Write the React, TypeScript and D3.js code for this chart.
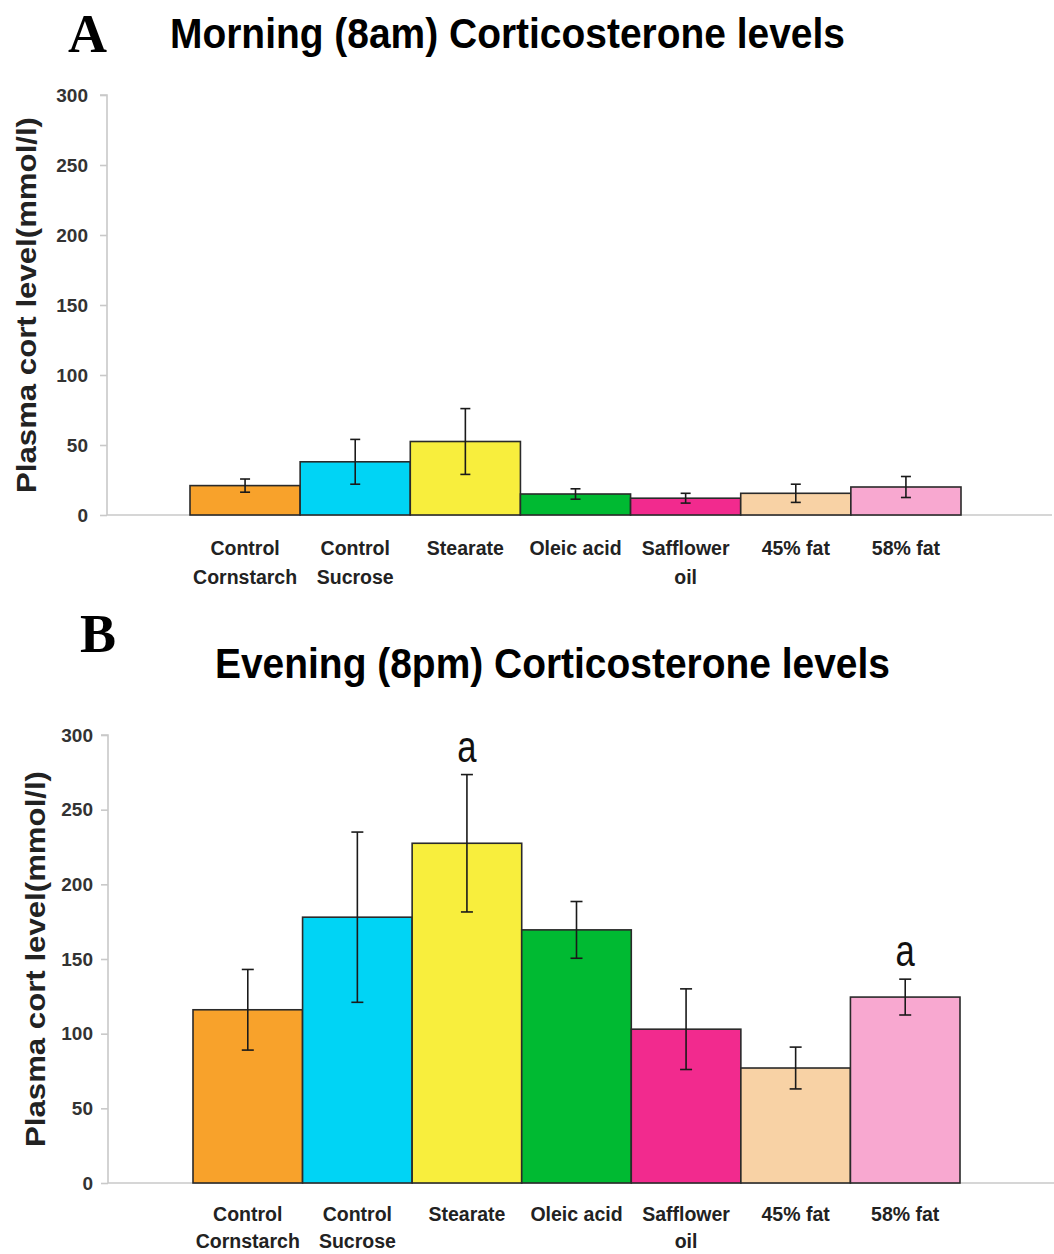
import React, { useEffect, useRef } from "react";
import * as d3 from "d3";

const categories = [
  "Control\nCornstarch",
  "Control\nSucrose",
  "Stearate",
  "Oleic acid",
  "Safflower\noil",
  "45% fat",
  "58% fat",
];
const barColors = ["#F8A22B", "#00D4F5", "#F8EE3D", "#00BA32", "#F22A8E", "#F8D2A5", "#F8A8D0"];

const morningMean = [21, 38, 52.5, 15, 12, 15.5, 20];
const morningErr = [4.7, 16, 23.5, 3.7, 3.5, 6.5, 7.5];
const morningSig = ["", "", "", "", "", "", ""];

const eveningMean = [116, 178, 227.5, 169.5, 103, 77, 124.5];
const eveningErr = [27, 57, 46, 19, 27, 14, 12];
const eveningSig = ["", "", "a", "", "", "", "a"];

const yTicks = [0, 50, 100, 150, 200, 250, 300];
const yLabel = "Plasma cort level(mmol/l)";

type PanelProps = {
  letter: string;
  title: string;
  mean: number[];
  err: number[];
  sig: string[];
  yTop: number;
  yBottom: number;
  axisX: number;
  axisEnd: number;
  bandStart: number;
  bandEnd: number;
  letterX: number;
  letterY: number;
  titleX: number;
  titleY: number;
  yLabelX: number;
  tickPad: number;
  labelY1: number;
  labelGap: number;
  capW: number;
};

function Panel(p: PanelProps) {
  const axisRef = useRef<SVGGElement>(null);
  const y = d3.scaleLinear().domain([0, 300]).range([p.yBottom, p.yTop]);
  const x = d3.scaleBand<string>().domain(categories).range([p.bandStart, p.bandEnd]).padding(0);

  useEffect(() => {
    if (!axisRef.current) return;
    const g = d3.select(axisRef.current);
    g.selectAll("*").remove();
    g.attr("transform", `translate(${p.axisX},0)`).call(
      d3.axisLeft(y).tickValues(yTicks).tickSize(7).tickPadding(p.tickPad).tickFormat(d3.format("d"))
    );
    g.select(".domain").attr("stroke", "#C9C9C9").attr("stroke-width", 1.6).attr("d", `M-7,${p.yTop}H0V${p.yBottom}`);
    g.selectAll(".tick line").attr("stroke", "#C9C9C9").attr("stroke-width", 1.6);
    g.selectAll(".tick text")
      .attr("fill", "#333")
      .attr("font-family", "'Liberation Sans', Arial, sans-serif")
      .attr("font-weight", "bold")
      .attr("font-size", 19);
  });

  const yMid = (p.yTop + p.yBottom) / 2;
  return (
    <g>
      <text x={p.letterX} y={p.letterY} fontFamily="'Liberation Serif', 'Times New Roman', serif" fontWeight="bold" fontSize={54} fill="#000">
        {p.letter}
      </text>
      <text
        x={p.titleX}
        y={p.titleY}
        fontFamily="'Liberation Sans', Arial, sans-serif"
        fontWeight="bold"
        fontSize={42}
        textLength={675}
        lengthAdjust="spacingAndGlyphs"
        fill="#000"
      >
        {p.title}
      </text>
      <text
        transform={`translate(${p.yLabelX},${yMid}) rotate(-90)`}
        textAnchor="middle"
        fontFamily="'Liberation Sans', Arial, sans-serif"
        fontWeight="bold"
        fontSize={28}
        textLength={376}
        lengthAdjust="spacingAndGlyphs"
        fill="#222"
      >
        {yLabel}
      </text>
      <g ref={axisRef} />
      <line x1={p.axisX} x2={p.axisEnd} y1={p.yBottom} y2={p.yBottom} stroke="#C9C9C9" strokeWidth={1.6} />
      {categories.map((c, i) => (
        <rect
          key={c}
          x={x(c)}
          y={y(p.mean[i])}
          width={x.bandwidth()}
          height={y(0) - y(p.mean[i])}
          fill={barColors[i]}
          stroke="#2a2a2a"
          strokeWidth={1.6}
        />
      ))}
      {categories.map((c, i) => {
        const cx = (x(c) as number) + x.bandwidth() / 2;
        const hi = y(p.mean[i] + p.err[i]);
        const lo = y(p.mean[i] - p.err[i]);
        return (
          <g key={c} stroke="#1a1a1a" strokeWidth={1.6}>
            <line x1={cx} x2={cx} y1={hi} y2={lo} />
            <line x1={cx - p.capW / 2} x2={cx + p.capW / 2} y1={hi} y2={hi} />
            <line x1={cx - p.capW / 2} x2={cx + p.capW / 2} y1={lo} y2={lo} />
          </g>
        );
      })}
      {categories.map((c, i) =>
        p.sig[i] ? (
          <text
            key={c}
            transform={`translate(${(x(c) as number) + x.bandwidth() / 2},${y(p.mean[i] + p.err[i]) - 13}) scale(1.05,1.35)`}
            textAnchor="middle"
            fontFamily="'Liberation Sans', Arial, sans-serif"
            fontSize={33}
            fill="#111"
          >
            {p.sig[i]}
          </text>
        ) : null
      )}
      {categories.map((c) => {
        const cx = (x(c) as number) + x.bandwidth() / 2;
        return (
          <text
            key={c}
            textAnchor="middle"
            fontFamily="'Liberation Sans', Arial, sans-serif"
            fontWeight="bold"
            fontSize={19.5}
            fill="#222"
          >
            {c.split("\n").map((line, k) => (
              <tspan key={k} x={cx} y={p.labelY1 + k * p.labelGap}>
                {line}
              </tspan>
            ))}
          </text>
        );
      })}
    </g>
  );
}

export default function App() {
  return (
    <svg
      width={1054}
      height={1254}
      viewBox="0 0 1054 1254"
      style={{ position: "absolute", left: 0, top: 0, background: "#fff", display: "block" }}
    >
      <rect width={1054} height={1254} fill="#fff" />
      <Panel
        letter="A"
        title="Morning (8am) Corticosterone levels"
        mean={morningMean}
        err={morningErr}
        sig={morningSig}
        yTop={95}
        yBottom={515}
        axisX={107}
        axisEnd={1052}
        bandStart={190}
        bandEnd={961}
        letterX={68}
        letterY={52}
        titleX={170}
        titleY={48}
        yLabelX={36}
        tickPad={12}
        labelY1={555}
        labelGap={29}
        capW={10}
      />
      <Panel
        letter="B"
        title="Evening (8pm) Corticosterone levels"
        mean={eveningMean}
        err={eveningErr}
        sig={eveningSig}
        yTop={735}
        yBottom={1183}
        axisX={108}
        axisEnd={1054}
        bandStart={193}
        bandEnd={960}
        letterX={80}
        letterY={652}
        titleX={215}
        titleY={678}
        yLabelX={45}
        tickPad={8}
        labelY1={1221}
        labelGap={27}
        capW={12}
      />
    </svg>
  );
}
